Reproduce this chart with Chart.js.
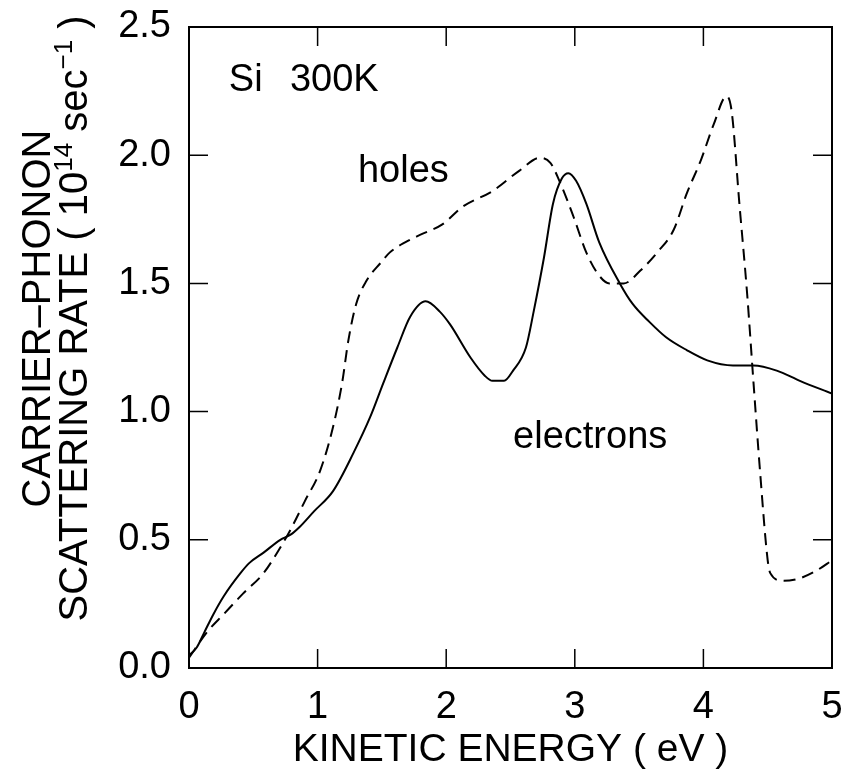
<!DOCTYPE html>
<html>
<head>
<meta charset="utf-8">
<script src="https://cdn.jsdelivr.net/npm/chart.js@4.4.1/dist/chart.umd.min.js"></script>
<style>
html,body{margin:0;padding:0;background:#fff;}
#wrap{width:853px;height:778px;}
</style>
</head>
<body>
<div id="wrap"><canvas id="c" width="853" height="778"></canvas></div>
<script>
// ---- data ----
const electronsX = [0.0,0.06,0.12,0.19,0.27,0.40,0.47,0.58,0.71,0.79,0.86,0.97,1.12,1.28,1.41,1.51,1.62,1.72,1.84,1.95,2.03,2.19,2.30,2.36,2.45,2.52,2.62,2.68,2.76,2.83,2.90,2.95,3.01,3.09,3.19,3.35,3.45,3.58,3.71,3.87,4.03,4.23,4.39,4.57,4.75,5.0];
const electronsY = [0.05,0.08,0.14,0.21,0.28,0.37,0.41,0.45,0.50,0.52,0.55,0.61,0.69,0.84,0.98,1.11,1.25,1.37,1.43,1.39,1.34,1.21,1.14,1.12,1.12,1.16,1.25,1.39,1.60,1.81,1.91,1.93,1.90,1.81,1.66,1.50,1.42,1.35,1.29,1.24,1.20,1.18,1.18,1.16,1.12,1.07];
const holesX = [0.0,0.14,0.27,0.42,0.58,0.71,0.79,0.90,1.02,1.12,1.19,1.24,1.30,1.38,1.49,1.56,1.68,1.80,1.97,2.13,2.36,2.57,2.73,2.81,2.88,2.99,3.09,3.19,3.27,3.38,3.51,3.64,3.77,3.87,3.98,4.08,4.18,4.22,4.28,4.34,4.39,4.44,4.50,4.52,4.62,4.75,4.88,5.0];
const holesY = [0.04,0.14,0.21,0.29,0.37,0.47,0.54,0.65,0.77,0.94,1.11,1.28,1.42,1.51,1.58,1.62,1.66,1.69,1.73,1.80,1.86,1.94,1.99,1.97,1.90,1.76,1.62,1.53,1.50,1.50,1.55,1.62,1.71,1.85,1.98,2.12,2.23,2.17,1.81,1.46,1.11,0.77,0.42,0.37,0.34,0.35,0.38,0.42];
const xTickValues = [0,1,2,3,4,5];
const yTickValues = [0,0.5,1.0,1.5,2.0,2.5];
const xTitle = 'KINETIC ENERGY ( eV )';
const yTitleLine1 = 'CARRIER\u2013PHONON';
const yTitleLine2 = [['SCATTERING RATE ( 10',false],['14',true],[' sec',false],['\u22121',true],[' )',false]];
const noteTexts = ['Si', '300K', 'holes', 'electrons'];
const noteX = [0.31, 0.785, 1.314, 2.52];
const noteY = [2.249, 2.249, 1.895, 0.859];

const FONT = "'Liberation Sans', Arial, Helvetica, sans-serif";

const toPts = (xs, ys) => xs.map((x, i) => ({x: x, y: ys[i]}));

const framePlugin = {
  id: 'frame',
  afterDatasetsDraw(chart) {
    const ctx = chart.ctx;
    const a = chart.chartArea;
    const xs = chart.scales.x, ys = chart.scales.y;
    ctx.save();
    ctx.strokeStyle = '#000';
    ctx.lineWidth = 2;
    ctx.strokeRect(a.left, a.top, a.right - a.left, a.bottom - a.top);
    const TL = 19;
    ctx.lineWidth = 1.5;
    ctx.beginPath();
    xTickValues.forEach(v => {
      const px = xs.getPixelForValue(v);
      ctx.moveTo(px, a.bottom); ctx.lineTo(px, a.bottom - TL);
      ctx.moveTo(px, a.top); ctx.lineTo(px, a.top + TL);
    });
    yTickValues.forEach(v => {
      const py = ys.getPixelForValue(v);
      ctx.moveTo(a.left, py); ctx.lineTo(a.left + TL, py);
      ctx.moveTo(a.right, py); ctx.lineTo(a.right - TL, py);
    });
    ctx.stroke();

    // annotations
    ctx.fillStyle = '#000';
    ctx.font = '38px ' + FONT;
    ctx.textAlign = 'left';
    ctx.textBaseline = 'alphabetic';
    noteTexts.forEach((t, i) => {
      ctx.fillText(t, xs.getPixelForValue(noteX[i]), ys.getPixelForValue(noteY[i]));
    });

    // y-axis title (two lines, rotated, with superscripts)
    const cy = (a.top + a.bottom) / 2 - 29;
    const mainFont = '40px ' + FONT, supFont = '26px ' + FONT;
    ctx.save();
    ctx.translate(a.left - 139, cy);
    ctx.rotate(-Math.PI / 2);
    ctx.textAlign = 'center';
    ctx.font = mainFont;
    ctx.fillText(yTitleLine1, 0, 0);
    ctx.restore();

    ctx.save();
    ctx.translate(a.left - 102, cy);
    ctx.rotate(-Math.PI / 2);
    ctx.textAlign = 'left';
    let total = 0;
    yTitleLine2.forEach(([t, sup]) => { ctx.font = sup ? supFont : mainFont; total += ctx.measureText(t).width; });
    let x = -total / 2;
    yTitleLine2.forEach(([t, sup]) => {
      ctx.font = sup ? supFont : mainFont;
      ctx.fillText(t, x, sup ? -15 : 0);
      x += ctx.measureText(t).width;
    });
    ctx.restore();
    ctx.restore();
  }
};

new Chart(document.getElementById('c'), {
  type: 'scatter',
  data: {
    datasets: [
      {
        label: 'electrons',
        data: toPts(electronsX, electronsY),
        showLine: true,
        borderColor: '#000',
        borderWidth: 2,
        pointRadius: 0,
        cubicInterpolationMode: 'monotone',
        fill: false
      },
      {
        label: 'holes',
        data: toPts(holesX, holesY),
        showLine: true,
        borderColor: '#000',
        borderWidth: 2,
        borderDash: [12, 7],
        pointRadius: 0,
        cubicInterpolationMode: 'monotone',
        fill: false
      }
    ]
  },
  options: {
    responsive: false,
    devicePixelRatio: 1,
    animation: false,
    layout: { padding: { top: 27, right: 21, left: 0, bottom: 0 } },
    plugins: { legend: { display: false }, tooltip: { enabled: false } },
    scales: {
      x: {
        type: 'linear', min: 0, max: 5,
        afterBuildTicks: s => { s.ticks = xTickValues.map(v => ({value: v})); },
        ticks: { color: '#000', font: { family: FONT, size: 38 }, padding: 17, maxRotation: 0,
                 callback: v => String(v) },
        grid: { display: false, drawTicks: false },
        border: { display: false },
        title: { display: true, text: xTitle, color: '#000', font: { family: FONT, size: 39 }, padding: { top: 0, bottom: 4 } },
        afterFit: s => { s.height = 110; s.paddingLeft = 0; s.paddingRight = 0; }
      },
      y: {
        type: 'linear', min: 0, max: 2.5,
        afterBuildTicks: s => { s.ticks = yTickValues.map(v => ({value: v})); },
        ticks: { color: '#000', font: { family: FONT, size: 38 }, padding: 18,
                 callback: v => Number(v).toFixed(1) },
        grid: { display: false, drawTicks: false },
        border: { display: false },
        afterFit: s => { s.width = 189; s.paddingTop = 0; s.paddingBottom = 0; }
      }
    }
  },
  plugins: [framePlugin]
});
</script>
</body>
</html>
